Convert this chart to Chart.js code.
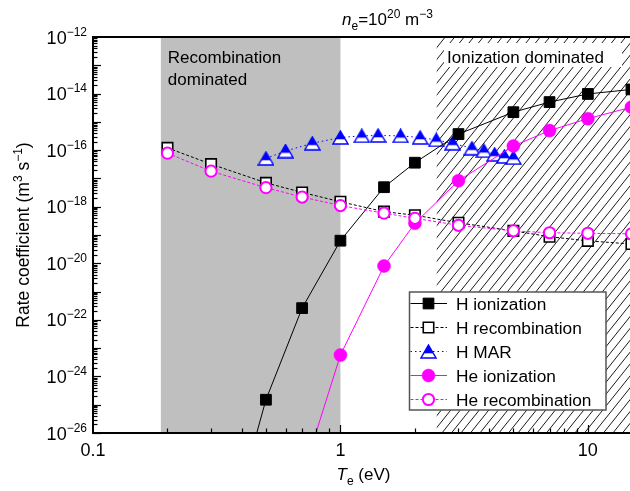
<!DOCTYPE html>
<html><head><meta charset="utf-8">
<script src="https://cdn.jsdelivr.net/npm/chart.js@4/dist/chart.umd.min.js"></script>
<style>html,body{margin:0;padding:0;background:#fff}#wrap{width:630px;height:491px}</style>
</head><body><div id="wrap"><canvas id="c" width="630" height="491"></canvas></div>
<script>
// ---- data (T_e in eV, rate coefficient in m^3 s^-1) ----
const hIonT  = [0.4, 0.5, 0.7, 1, 1.5, 2, 3, 5, 7, 10, 15];
const hIonK  = [1.3e-28, 1.5e-25, 2.6e-22, 6.3e-20, 4.9e-18, 3.6e-17, 3.7e-16, 2.2e-15, 5e-15, 9.7e-15, 1.4e-14];
const hRecT  = [0.2, 0.3, 0.5, 0.7, 1, 1.5, 2, 3, 5, 7, 10, 15];
const hRecK  = [1.2e-16, 3.2e-17, 7e-18, 3.2e-18, 1.5e-18, 6.7e-19, 5e-19, 2.7e-19, 1.4e-19, 8.7e-20, 6.2e-20, 4.8e-20];
const hMarT  = [0.5, 0.6, 0.77, 1.0, 1.22, 1.42, 1.75, 2.1, 2.44, 2.84, 3.4, 3.8, 4.2, 4.6, 5.0];
const hMarK  = [5.1e-17, 9.3e-17, 1.75e-16, 2.8e-16, 3.2e-16, 3.3e-16, 3.2e-16, 2.8e-16, 2.3e-16, 1.75e-16, 1.17e-16, 9.5e-17, 7.1e-17, 6e-17, 5.4e-17];
const heIonT = [0.7, 1, 1.5, 2, 3, 5, 7, 10, 15];
const heIonK = [2.8e-28, 5.7e-24, 8e-21, 2.6e-19, 8.3e-18, 1.4e-16, 4.9e-16, 1.3e-15, 3.3e-15];
const heRecT = [0.2, 0.3, 0.5, 0.7, 1, 1.5, 2, 3, 5, 7, 10, 15];
const heRecK = [7.8e-17, 1.8e-17, 4.7e-18, 2.2e-18, 1.1e-18, 5.9e-19, 3.9e-19, 2.2e-19, 1.4e-19, 1.2e-19, 1.15e-19, 1.1e-19];
const seriesNames = ['H ionization', 'H recombination', 'H MAR', 'He ionization', 'He recombination'];
const xTickValues = [0.1, 1, 10];
const xTickLabels = ['0.1', '1', '10'];
const yTickExponents = [-12, -14, -16, -18, -20, -22, -24, -26];
const recombRegion = [0.188, 1.0];
const ionizRegion = [2.45, 15];
const recombLabel = ['Recombination', 'dominated'];
const ionizLabel = 'Ionization dominated';

const FONT = '"Liberation Sans", Arial, Helvetica, sans-serif';

function makeTri() {
  const c = document.createElement('canvas'); c.width = 17; c.height = 15;
  const g = c.getContext('2d');
  const path = () => { g.beginPath(); g.moveTo(8.5, 1); g.lineTo(16, 14); g.lineTo(1, 14); g.closePath(); };
  path(); g.fillStyle = '#fff'; g.fill();
  g.save(); path(); g.clip(); g.fillStyle = '#0000ff'; g.fillRect(0, 0, 17, 9.3); g.restore();
  path(); g.strokeStyle = '#0000ff'; g.lineWidth = 1.4; g.stroke();
  return c;
}
const tri = makeTri();
const pts = (xs, ys) => xs.map((x, i) => ({ x: x, y: ys[i] }));
const clipObj = { left: 0, top: 8, right: 12, bottom: 0 };

const datasets = [
  { label: seriesNames[0], data: pts(hIonT, hIonK), borderColor: '#000', borderWidth: 1,
    pointStyle: 'rect', pointRadius: 7.6, pointBackgroundColor: '#000', pointBorderColor: '#000', pointBorderWidth: 1, order: 2 },
  { label: seriesNames[1], data: pts(hRecT, hRecK), borderColor: '#000', borderWidth: 1, borderDash: [3, 2],
    pointStyle: 'rect', pointRadius: 7.4, pointBackgroundColor: '#fff', pointBorderColor: '#000', pointBorderWidth: 1.6, order: 4 },
  { label: seriesNames[2], data: pts(hMarT, hMarK), borderColor: '#0000ff', borderWidth: 1, borderDash: [1.5, 3],
    pointStyle: tri, pointRadius: 7, order: 3 },
  { label: seriesNames[3], data: pts(heIonT, heIonK), borderColor: '#ff00ff', borderWidth: 1,
    pointStyle: 'circle', pointRadius: 6.5, pointBackgroundColor: '#ff00ff', pointBorderColor: '#ff00ff', pointBorderWidth: 0.5, order: 1 },
  { label: seriesNames[4], data: pts(heRecT, heRecK), borderColor: '#ff00ff', borderWidth: 1, borderDash: [3, 2],
    pointStyle: 'circle', pointRadius: 5.6, pointBackgroundColor: '#fff', pointBorderColor: '#ff00ff', pointBorderWidth: 2, order: 0 }
];
datasets.forEach(d => { d.tension = 0; d.fill = false; d.clip = clipObj; d.pointHoverRadius = d.pointRadius; });

function richText(ctx, segs, x, y, align) {
  let w = 0;
  segs.forEach(s => { ctx.font = (s.italic ? 'italic ' : '') + s.size + 'px ' + FONT; s.w = ctx.measureText(s.t).width; w += s.w; });
  let cx = align === 'center' ? x - w / 2 : (align === 'right' ? x - w : x);
  ctx.textAlign = 'left'; ctx.textBaseline = 'alphabetic';
  segs.forEach(s => { ctx.font = (s.italic ? 'italic ' : '') + s.size + 'px ' + FONT; ctx.fillText(s.t, cx, y + (s.dy || 0)); cx += s.w; });
  return w;
}

function drawMarker(ctx, ds, x, y) {
  const st = ds.pointStyle, r = ds.pointRadius;
  if (st instanceof HTMLCanvasElement) { ctx.drawImage(st, x - st.width / 2, y - st.height / 2); return; }
  ctx.save(); ctx.setLineDash([]);
  ctx.fillStyle = ds.pointBackgroundColor; ctx.strokeStyle = ds.pointBorderColor; ctx.lineWidth = ds.pointBorderWidth;
  ctx.beginPath();
  if (st === 'rect') { const s = r * Math.SQRT1_2; ctx.rect(x - s, y - s, 2 * s, 2 * s); }
  else { ctx.arc(x, y, r, 0, Math.PI * 2); }
  ctx.fill(); if (ds.pointBorderWidth) ctx.stroke();
  ctx.restore();
}

const decor = {
  id: 'decor',
  beforeDatasetsDraw(chart) {
    const ctx = chart.ctx, a = chart.chartArea, xs = chart.scales.x;
    ctx.save();
    const g0 = xs.getPixelForValue(recombRegion[0]), g1 = xs.getPixelForValue(recombRegion[1]);
    ctx.fillStyle = '#bfbfbf';
    ctx.fillRect(g0, a.top, g1 - g0, a.bottom - a.top);
    const h0 = xs.getPixelForValue(ionizRegion[0]);
    ctx.save();
    ctx.beginPath(); ctx.rect(h0, a.top, a.right - h0 + 5, a.bottom - a.top); ctx.clip();
    ctx.strokeStyle = '#000'; ctx.lineWidth = 0.9;
    const H = a.bottom - a.top, slope = 1.25, sp = 9.5;
    for (let x = h0 - H / slope - 20; x < a.right + 20; x += sp) {
      ctx.beginPath(); ctx.moveTo(x, a.bottom); ctx.lineTo(x + H / slope, a.top); ctx.stroke();
    }
    ctx.restore();
    ctx.fillStyle = '#fff';
    ctx.fillRect(444, 43, 178, 24);
    ctx.fillStyle = '#000';
    ctx.font = '17px ' + FONT; ctx.textAlign = 'left'; ctx.textBaseline = 'alphabetic';
    ctx.fillText(ionizLabel, 447, 63);
    ctx.fillText(recombLabel[0], g0 + 7, 63);
    ctx.fillText(recombLabel[1], g0 + 7, 84.5);
    ctx.restore();
  },
  afterDatasetsDraw(chart) {
    const ctx = chart.ctx, a = chart.chartArea, xs = chart.scales.x, ys = chart.scales.y;
    ctx.save();
    ctx.setLineDash([]);
    ctx.strokeStyle = '#000';
    ctx.lineWidth = 1.2;
    for (let k = -26; k < -12; k++) {
      for (let m = 1; m <= 9; m++) {
        const y = Math.round(ys.getPixelForValue(m * Math.pow(10, k))) + 0.5;
        const len = m === 1 ? 8 : 4.5;
        ctx.beginPath(); ctx.moveTo(a.left, y); ctx.lineTo(a.left + len, y); ctx.stroke();
      }
    }
    [0.1, 1, 10].forEach(d => {
      for (let m = 1; m <= 9; m++) {
        const v = m * d; if (v > xs.max || v <= xs.min) continue;
        const x = Math.round(xs.getPixelForValue(v)) + 0.5;
        const len = m === 1 ? 8 : 4.5;
        ctx.beginPath(); ctx.moveTo(x, a.bottom); ctx.lineTo(x, a.bottom - len); ctx.stroke();
      }
    });
    ctx.lineWidth = 2;
    ctx.beginPath();
    ctx.moveTo(a.right + 2, a.top); ctx.lineTo(a.left, a.top); ctx.lineTo(a.left, a.bottom); ctx.lineTo(a.right + 2, a.bottom);
    ctx.stroke();
    ctx.fillStyle = '#000';
    yTickExponents.forEach(e => {
      const y = ys.getPixelForValue(Math.pow(10, e));
      ctx.font = '12px ' + FONT;
      const ex = '\u2212' + Math.abs(e);
      const ew = ctx.measureText(ex).width;
      ctx.textAlign = 'left'; ctx.textBaseline = 'alphabetic';
      ctx.fillText(ex, 87 - ew, y - 1.5);
      ctx.font = '18px ' + FONT; ctx.textAlign = 'right';
      ctx.fillText('10', 87 - ew, y + 6.5);
    });
    ctx.font = '18px ' + FONT; ctx.textAlign = 'center'; ctx.textBaseline = 'alphabetic';
    xTickValues.forEach((v, i) => { ctx.fillText(xTickLabels[i], xs.getPixelForValue(v), 455.5); });
    richText(ctx, [{ t: 'T', size: 17, italic: true }, { t: 'e', size: 12, dy: 5 }, { t: ' (eV)', size: 17 }], 363.5, 480, 'center');
    richText(ctx, [{ t: 'n', size: 17, italic: true }, { t: 'e', size: 12, dy: 4.5 }, { t: '=10', size: 17 },
      { t: '20', size: 12, dy: -7 }, { t: ' m', size: 17 }, { t: '\u22123', size: 12, dy: -7 }], 387.5, 25, 'center');
    ctx.save(); ctx.translate(28.5, 235); ctx.rotate(-Math.PI / 2);
    richText(ctx, [{ t: 'Rate coefficient (m', size: 17.5 }, { t: '3', size: 12, dy: -7 }, { t: ' s', size: 17.5 },
      { t: '\u22121', size: 12, dy: -7 }, { t: ')', size: 17.5 }], 0, 0, 'center');
    ctx.restore();
    const lx = 409.5, ly = 292, lw = 196.5, lh = 118;
    ctx.fillStyle = '#fff'; ctx.fillRect(lx, ly, lw, lh);
    ctx.strokeStyle = '#555'; ctx.lineWidth = 1.5; ctx.strokeRect(lx, ly, lw, lh);
    const rows = [303.5, 327.5, 351.5, 375.5, 399.5];
    chart.data.datasets.forEach((ds, i) => {
      const y = rows[i];
      ctx.save();
      ctx.strokeStyle = ds.borderColor; ctx.lineWidth = ds.borderWidth; ctx.setLineDash(ds.borderDash || []);
      ctx.beginPath(); ctx.moveTo(lx + 1, y); ctx.lineTo(447, y); ctx.stroke();
      ctx.restore();
      drawMarker(ctx, ds, 428.5, y);
      ctx.fillStyle = '#000'; ctx.font = '17.3px ' + FONT; ctx.textAlign = 'left'; ctx.textBaseline = 'alphabetic';
      ctx.fillText(ds.label, 456, y + 6.5);
    });
    ctx.restore();
  }
};

new Chart(document.getElementById('c'), {
  type: 'line',
  data: { datasets: datasets },
  options: {
    responsive: false, animation: false, devicePixelRatio: 1,
    layout: { autoPadding: false, padding: { top: 37, right: 0, left: 0, bottom: 0 } },
    plugins: { legend: { display: false }, tooltip: { enabled: false } },
    scales: {
      x: { type: 'logarithmic', min: 0.1, max: 14.8, ticks: { display: false }, grid: { display: false }, border: { display: false },
           afterFit(s) { s.height = 58; s.paddingLeft = 0; s.paddingRight = 0; s.paddingTop = 0; s.paddingBottom = 0; } },
      y: { type: 'logarithmic', min: 1e-26, max: 1e-12, ticks: { display: false }, grid: { display: false }, border: { display: false },
           afterFit(s) { s.width = 93; s.paddingLeft = 0; s.paddingRight = 0; s.paddingTop = 0; s.paddingBottom = 0; } }
    }
  },
  plugins: [decor]
});
</script>
</body></html>
